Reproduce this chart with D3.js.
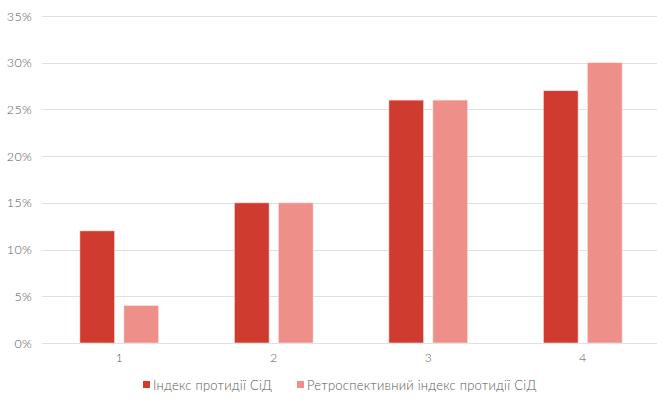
<!DOCTYPE html>
<html>
<head>
<meta charset="utf-8">
<script src="https://cdn.jsdelivr.net/npm/d3@7"></script>
<style>
  html, body { margin: 0; padding: 0; background: #fff; }
  svg { display: block; font-family: "Lato", "Open Sans", sans-serif; }
</style>
</head>
<body>
<svg id="chart" width="657" height="399"></svg>
<script>
// Categories and series values (in percent)
const categories = ["1", "2", "3", "4"];
const seriesNames = ["Індекс протидії СіД", "Ретроспективний індекс протидії СіД"];
const indexValues = [12, 15, 26, 27];
const retroValues = [4, 15, 26, 30];
const yTicks = [0, 5, 10, 15, 20, 25, 30, 35];

const colors = ["#cf3b2f", "#ef8f8a"];
const series = [indexValues, retroValues];

const svg = d3.select("#chart");
const margin = { left: 42, right: -3, top: 16, bottom: 56 };
const W = 657, H = 399;

const x = d3.scaleBand()
  .domain(categories)
  .range([margin.left, W - margin.right]);

const xInner = d3.scaleBand()
  .domain(d3.range(series.length))
  .range([0, x.bandwidth()])
  .paddingInner(0.211)
  .paddingOuter(0.861);

const y = d3.scaleLinear()
  .domain([0, 35])
  .range([H - margin.bottom, margin.top]);

// Horizontal gridlines
svg.append("g")
  .selectAll("line")
  .data(yTicks)
  .join("line")
  .attr("x1", margin.left)
  .attr("x2", W - margin.right)
  .attr("y1", d => Math.round(y(d)) + 0.5)
  .attr("y2", d => Math.round(y(d)) + 0.5)
  .attr("stroke", "#e0e0e0")
  .attr("stroke-width", 1.2);

// Y tick labels
const yAxis = d3.axisLeft(y)
  .tickValues(yTicks)
  .tickFormat(d => d + "%")
  .tickSize(0)
  .tickPadding(10);
svg.append("g")
  .attr("transform", `translate(${margin.left},0)`)
  .call(yAxis)
  .call(g => g.select(".domain").remove())
  .call(g => g.selectAll("text")
    .attr("fill", "#595959")
    .attr("font-size", 12.5)
    .attr("font-family", "Lato, sans-serif")
    .attr("font-weight", 300)
    .attr("letter-spacing", 0.3));

// Bars
const groups = svg.append("g")
  .selectAll("g")
  .data(categories)
  .join("g")
  .attr("transform", d => `translate(${x(d)},0)`);

groups.selectAll("rect")
  .data((c, i) => series.map((s, k) => ({ k, v: s[i] })))
  .join("rect")
  .attr("x", d => xInner(d.k))
  .attr("width", xInner.bandwidth())
  .attr("y", d => y(d.v))
  .attr("height", d => y(0) - y(d.v))
  .attr("fill", d => colors[d.k])
  .attr("stroke", "#fbe3e1")
  .attr("stroke-width", 0.6);

// X tick labels
const xAxis = d3.axisBottom(x).tickSize(0).tickPadding(10);
svg.append("g")
  .attr("transform", `translate(0,${y(0)})`)
  .call(xAxis)
  .call(g => g.select(".domain").remove())
  .call(g => g.selectAll("text")
    .attr("fill", "#595959")
    .attr("font-size", 12)
    .attr("font-family", "Lato, sans-serif")
    .attr("font-weight", 300));

// Legend
const legendX = [143, 297];
const legend = svg.append("g")
  .selectAll("g")
  .data(seriesNames)
  .join("g")
  .attr("transform", (d, i) => `translate(${legendX[i]},381)`);
legend.append("rect")
  .attr("width", 7)
  .attr("height", 7)
  .attr("fill", (d, i) => colors[i]);
legend.append("text")
  .attr("x", 10)
  .attr("y", 8.5)
  .attr("fill", "#595959")
  .attr("font-size", 13)
  .attr("font-weight", 300)
  .attr("letter-spacing", 0.25)
  .text(d => d);
</script>
</body>
</html>
